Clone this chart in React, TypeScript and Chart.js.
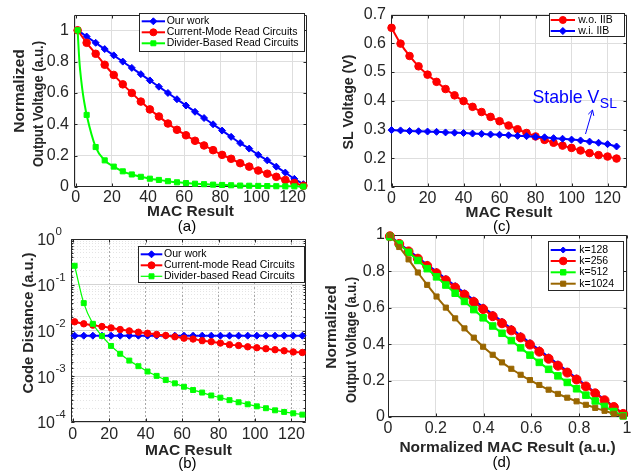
import React, { useEffect, useRef } from "react";
import { Chart, registerables } from "chart.js";
import { drawPoint } from "chart.js/helpers";

Chart.register(...registerables);

const FONT = "'Liberation Sans', Arial, Helvetica, sans-serif";
const AXIS = "#262626";
const GRID = "#dedede";
const W = 639;
const H = 472;
const BLUE = "#0000ff";
const RED = "#ff0000";
const GREEN = "#00ff00";
const BROWN = "#996600";
const TICK_SIZE = 16;
const TITLE_SIZE = 15.5;

// ---------- Panel (a) ----------
const macA = [1, 6, 11, 16, 21, 26, 31, 36, 41, 46, 51, 56, 61, 66, 71, 76, 81, 86, 91, 96, 101, 106, 111, 116, 121, 126];
const ourWorkA = [1.0, 0.96, 0.92, 0.88, 0.84, 0.8, 0.76, 0.72, 0.68, 0.64, 0.6, 0.56, 0.52, 0.48, 0.44, 0.4, 0.36, 0.32, 0.28, 0.245, 0.205, 0.17, 0.13, 0.092, 0.052, 0.018];
const currentModeA = [1.0, 0.92, 0.85, 0.78, 0.715, 0.655, 0.6, 0.545, 0.495, 0.45, 0.405, 0.365, 0.33, 0.295, 0.265, 0.235, 0.205, 0.18, 0.152, 0.13, 0.105, 0.085, 0.065, 0.045, 0.025, 0.008];
const dividerXA = [1, 2, 3, 4, 5, 6, 11, 16, 21, 26, 31, 36, 41, 46, 51, 56, 61, 66, 71, 76, 81, 86, 91, 96, 101, 106, 111, 116, 121, 126];
const dividerA = [1.0, 0.8, 0.68, 0.59, 0.52, 0.46, 0.255, 0.17, 0.13, 0.1, 0.08, 0.065, 0.053, 0.045, 0.037, 0.03, 0.025, 0.021, 0.018, 0.015, 0.013, 0.011, 0.009, 0.008, 0.007, 0.006, 0.005, 0.004, 0.004, 0.003];
const xTicksA = [0, 20, 40, 60, 80, 100, 120];
const xLabelsA = ["0", "20", "40", "60", "80", "100", "120"];
const yTicksA = [0, 0.2, 0.4, 0.6, 0.8, 1];
const yLabelsA = ["0", "0.2", "0.4", "0.6", "0.8", "1"];

// ---------- Panel (b) ----------
const macB = [1, 6, 11, 16, 21, 26, 31, 36, 41, 46, 51, 56, 61, 66, 71, 76, 81, 86, 91, 96, 101, 106, 111, 116, 121, 126];
const ourWorkB = [0.0077, 0.0077, 0.0077, 0.0077, 0.0077, 0.0077, 0.0077, 0.0077, 0.0077, 0.0077, 0.0077, 0.0077, 0.0077, 0.0077, 0.0077, 0.0077, 0.0077, 0.0077, 0.0077, 0.0077, 0.0077, 0.0077, 0.0077, 0.0077, 0.0077, 0.0077];
const currentModeB = [0.0155, 0.014, 0.0131, 0.0122, 0.0114, 0.0105, 0.0098, 0.0092, 0.0087, 0.0082, 0.0078, 0.0073, 0.0068, 0.0065, 0.006, 0.0057, 0.0053, 0.0049, 0.0047, 0.0044, 0.0042, 0.004, 0.0038, 0.0036, 0.0034, 0.0033];
const dividerB = [0.26, 0.0397, 0.014, 0.0076, 0.0046, 0.0031, 0.0022, 0.00166, 0.00127, 0.00102, 0.00083, 0.0007, 0.00059, 0.0005, 0.00044, 0.00038, 0.00034, 0.0003, 0.00027, 0.000244, 0.00022, 0.0002, 0.00018, 0.000166, 0.000155, 0.000145];
const xTicksB = [0, 20, 40, 60, 80, 100, 120];
const xLabelsB = ["0", "20", "40", "60", "80", "100", "120"];
const yDecadesB = [0, -1, -2, -3, -4];

// ---------- Panel (c) ----------
const macC = [0, 5, 10, 15, 20, 25, 30, 35, 40, 45, 50, 55, 60, 65, 70, 75, 80, 85, 90, 95, 100, 105, 110, 115, 120, 125];
const withoutIIB = [0.654, 0.599, 0.556, 0.52, 0.491, 0.466, 0.441, 0.419, 0.399, 0.379, 0.361, 0.344, 0.329, 0.314, 0.301, 0.288, 0.276, 0.264, 0.254, 0.244, 0.236, 0.227, 0.218, 0.211, 0.206, 0.199];
const withIIB = [0.298, 0.297, 0.295, 0.294, 0.293, 0.292, 0.29, 0.289, 0.288, 0.286, 0.285, 0.283, 0.282, 0.28, 0.278, 0.277, 0.275, 0.273, 0.27, 0.268, 0.265, 0.262, 0.258, 0.254, 0.249, 0.241];
const xTicksC = [0, 20, 40, 60, 80, 100, 120];
const xLabelsC = ["0", "20", "40", "60", "80", "100", "120"];
const yTicksC = [0.1, 0.2, 0.3, 0.4, 0.5, 0.6, 0.7];
const yLabelsC = ["0.1", "0.2", "0.3", "0.4", "0.5", "0.6", "0.7"];

// ---------- Panel (d) ----------
const normMacD = [0.008, 0.047, 0.086, 0.125, 0.164, 0.203, 0.242, 0.281, 0.32, 0.359, 0.398, 0.438, 0.477, 0.516, 0.555, 0.594, 0.633, 0.672, 0.711, 0.75, 0.789, 0.828, 0.867, 0.906, 0.945, 0.984];
const k128D = [0.995, 0.955, 0.916, 0.877, 0.838, 0.799, 0.76, 0.721, 0.682, 0.643, 0.604, 0.564, 0.525, 0.486, 0.447, 0.408, 0.369, 0.33, 0.291, 0.252, 0.213, 0.174, 0.135, 0.096, 0.057, 0.018];
const k256D = [0.993, 0.951, 0.91, 0.87, 0.83, 0.79, 0.751, 0.711, 0.672, 0.632, 0.593, 0.554, 0.515, 0.476, 0.437, 0.398, 0.359, 0.32, 0.282, 0.244, 0.206, 0.168, 0.13, 0.092, 0.055, 0.017];
const k512D = [0.99, 0.95, 0.905, 0.86, 0.815, 0.77, 0.725, 0.68, 0.635, 0.59, 0.545, 0.5, 0.46, 0.42, 0.38, 0.34, 0.3, 0.262, 0.226, 0.19, 0.155, 0.12, 0.088, 0.058, 0.03, 0.006];
const k1024D = [1.0, 0.934, 0.866, 0.794, 0.726, 0.662, 0.601, 0.542, 0.487, 0.436, 0.386, 0.342, 0.3, 0.265, 0.232, 0.203, 0.176, 0.15, 0.127, 0.106, 0.086, 0.067, 0.05, 0.034, 0.018, 0.004];
const xTicksD = [0, 0.2, 0.4, 0.6, 0.8, 1];
const xLabelsD = ["0", "0.2", "0.4", "0.6", "0.8", "1"];
const yTicksD = [0, 0.2, 0.4, 0.6, 0.8, 1];
const yLabelsD = ["0", "0.2", "0.4", "0.6", "0.8", "1"];

// ---------- helpers ----------
type Box = { l: number; t: number; r: number; b: number };

const pts = (xs: number[], ys: number[]) => xs.map((x, i) => ({ x, y: ys[i] }));

function ds(label: string, xs: number[], ys: number[], color: string, style: string, radius: any, legendRadius: number, order: number, width = 2) {
  return {
    label,
    data: pts(xs, ys),
    borderColor: color,
    backgroundColor: color,
    pointBackgroundColor: color,
    pointBorderColor: color,
    pointStyle: style,
    pointRadius: radius,
    pointHoverRadius: radius,
    pointBorderWidth: 1,
    borderWidth: width,
    cubicInterpolationMode: "monotone",
    clip: false,
    order,
    legendRadius,
  };
}

function layoutFor(area: Box, yW: number, xH: number) {
  return {
    padding: { left: area.l - yW, top: area.t, right: W - area.r, bottom: H - area.b - xH },
  };
}

function axis(o: any) {
  return {
    type: o.type || "linear",
    position: o.isX ? "bottom" : "left",
    min: o.min,
    max: o.max,
    afterBuildTicks: (s: any) => {
      if (o.ticks) s.ticks = o.ticks.map((v: number) => ({ value: v }));
    },
    afterFit: (s: any) => {
      if (o.isX) s.height = o.size;
      else s.width = o.size;
    },
    ticks: {
      display: o.showTicks !== false,
      callback: (_v: any, i: number) => (o.labels ? o.labels[i] : ""),
      font: { family: FONT, size: TICK_SIZE },
      color: AXIS,
      padding: o.tickPad,
      autoSkip: false,
      maxRotation: 0,
      minRotation: 0,
    },
    grid: { color: o.gridColor || GRID, drawTicks: false, lineWidth: 1 },
    border: { display: false, dash: o.dash || [] },
    title: {
      display: !!o.isX,
      text: o.title || "",
      color: AXIS,
      font: { family: FONT, size: TITLE_SIZE, weight: "bold", lineHeight: 1.2 },
      padding: { top: 0, bottom: 0 },
    },
  };
}

const boxPlugin = {
  id: "matBox",
  beforeDatasetsDraw(chart: any) {
    const { ctx, chartArea } = chart;
    const L = Math.round(chartArea.left) + 0.5;
    const R = Math.round(chartArea.right) - 0.5;
    const T = Math.round(chartArea.top) + 0.5;
    const B = Math.round(chartArea.bottom) - 0.5;
    ctx.save();
    ctx.strokeStyle = AXIS;
    ctx.lineWidth = 1;
    ctx.beginPath();
    ctx.rect(L, T, R - L, B - T);
    const xs = chart.scales.x;
    const ys = chart.scales.y;
    for (const t of xs.ticks) {
      const p = Math.round(xs.getPixelForValue(t.value)) + 0.5;
      ctx.moveTo(p, B);
      ctx.lineTo(p, B - 3);
      ctx.moveTo(p, T);
      ctx.lineTo(p, T + 3);
    }
    for (const t of ys.ticks) {
      const p = Math.round(ys.getPixelForValue(t.value)) + 0.5;
      ctx.moveTo(L, p);
      ctx.lineTo(L + 3, p);
      ctx.moveTo(R, p);
      ctx.lineTo(R - 3, p);
    }
    const y2 = chart.scales.y2;
    if (y2) {
      for (const t of y2.ticks) {
        const p = Math.round(y2.getPixelForValue(t.value)) + 0.5;
        ctx.moveTo(L, p);
        ctx.lineTo(L + 2, p);
        ctx.moveTo(R, p);
        ctx.lineTo(R - 2, p);
      }
    }
    ctx.stroke();
    ctx.restore();
  },
};

function legendPlugin(box: number[], rows: number[], lineX: number[], textX: number) {
  return {
    id: "matLegend",
    afterDatasetsDraw(chart: any) {
      const { ctx } = chart;
      const [x1, y1, x2, y2] = box;
      ctx.save();
      ctx.fillStyle = "#ffffff";
      ctx.fillRect(x1, y1, x2 - x1, y2 - y1);
      ctx.strokeStyle = AXIS;
      ctx.lineWidth = 1;
      ctx.strokeRect(x1 + 0.5, y1 + 0.5, x2 - x1 - 1, y2 - y1 - 1);
      chart.data.datasets.forEach((d: any, i: number) => {
        const y = rows[i];
        ctx.strokeStyle = d.borderColor;
        ctx.lineWidth = d.borderWidth;
        ctx.beginPath();
        ctx.moveTo(lineX[0], y);
        ctx.lineTo(lineX[1], y);
        ctx.stroke();
        ctx.fillStyle = d.backgroundColor;
        ctx.lineWidth = 1;
        drawPoint(ctx, { pointStyle: d.pointStyle, radius: d.legendRadius, borderWidth: 1, rotation: 0 } as any, (lineX[0] + lineX[1]) / 2, y);
        ctx.fillStyle = "#000000";
        ctx.font = `10.5px ${FONT}`;
        ctx.textAlign = "left";
        ctx.textBaseline = "middle";
        ctx.fillText(d.label, textX, y);
      });
      ctx.restore();
    },
  };
}

// items: horizontal texts; vtitles: rotated axis titles
function textPlugin(items: any[], vtitles: any[], extra?: (chart: any) => void) {
  return {
    id: "matText",
    afterDraw(chart: any) {
      const { ctx } = chart;
      for (const t of items) {
        ctx.save();
        ctx.font = t.font;
        ctx.fillStyle = t.color || "#000000";
        ctx.textAlign = t.align || "center";
        ctx.textBaseline = t.baseline || "middle";
        ctx.fillText(t.text, t.x, t.y);
        ctx.restore();
      }
      for (const v of vtitles) {
        ctx.save();
        ctx.translate(v.x, v.y);
        ctx.rotate(-Math.PI / 2);
        ctx.font = `bold ${TITLE_SIZE}px ${FONT}`;
        ctx.fillStyle = AXIS;
        ctx.textAlign = "center";
        ctx.textBaseline = "middle";
        if (v.maxWidth) ctx.fillText(v.text, 0, 0, v.maxWidth);
        else ctx.fillText(v.text, 0, 0);
        ctx.restore();
      }
      if (extra) extra(chart);
    },
  };
}

function baseConfig(datasets: any[], scales: any, layout: any, plugins: any[]) {
  return {
    type: "line",
    data: { datasets },
    options: {
      animation: false,
      responsive: false,
      devicePixelRatio: 1,
      layout,
      scales,
      plugins: { legend: { display: false }, tooltip: { enabled: false } },
      events: [],
    },
    plugins: [boxPlugin, ...plugins],
  } as any;
}

const panelLabel = (text: string, x: number, y: number) => ({ text, x, y, font: `15px ${FONT}` });

// ---------- configs ----------
function configA() {
  const area: Box = { l: 74, t: 7, r: 307, b: 187 };
  const markerSet = new Set(macA);
  const datasets = [
    ds("Our work", macA, ourWorkA, BLUE, "rectRot", 3.5, 3.5, 0),
    ds("Current-Mode Read Circuits", macA, currentModeA, RED, "circle", 3.8, 3.5, -1),
    ds("Divider-Based Read Circuits", dividerXA, dividerA, GREEN, "rect", (c: any) => (c.raw && markerSet.has(c.raw.x) ? 3.6 : 0), 3.5, -2),
  ];
  const scales = {
    x: axis({ isX: true, min: -1, max: 128, ticks: xTicksA, labels: xLabelsA, size: 33.7, tickPad: 0.5, title: "MAC Result" }),
    y: axis({ min: 0, max: 1.1, ticks: yTicksA, labels: yLabelsA, size: 74, tickPad: 5 }),
  };
  return baseConfig(datasets, scales, layoutFor(area, 74, 33.7), [
    legendPlugin([139, 13, 305, 52], [21.3, 32.3, 43.3], [141.7, 165], 166.7),
    textPlugin(
      [panelLabel("(a)", 187, 226.7)],
      [
        { text: "Normalized", x: 19.5, y: 91 },
        { text: "Output Voltage (a.u.)", x: 38.5, y: 104, maxWidth: 126 },
      ]
    ),
  ]);
}

function configB() {
  const area: Box = { l: 71, t: 239, r: 306, b: 422 };
  const isDecade = (v: number) => Math.abs(Math.log10(v) - Math.round(Math.log10(v))) < 1e-9;
  const datasets = [
    ds("Our work", macB, ourWorkB, BLUE, "rectRot", 3.5, 3.5, 0),
    ds("Current-mode Read Circuits", macB, currentModeB, RED, "circle", 3.2, 3.5, -1),
    ds("Divider-based Read Circuits", macB, dividerB, GREEN, "rect", 3.5, 3.5, -2, 1.2),
  ];
  const yMain = axis({ type: "logarithmic", min: 1e-4, max: 1, ticks: yDecadesB.map((e) => Math.pow(10, e)), size: 71, tickPad: 5, showTicks: false, gridColor: "#d4d4d4" });
  const yMinor = {
    type: "logarithmic",
    position: "left",
    min: 1e-4,
    max: 1,
    afterFit: (s: any) => {
      s.width = 0;
    },
    ticks: { display: false },
    grid: { color: (c: any) => (c.tick && isDecade(c.tick.value) ? "rgba(0,0,0,0)" : "#e4e4e4"), drawTicks: false, lineWidth: 1 },
    border: { display: false, dash: [1, 2] },
    title: { display: false },
  };
  const scales = {
    x: axis({ isX: true, min: -1, max: 128, ticks: xTicksB, labels: xLabelsB, size: 38, tickPad: 3, gridColor: "#a8a8a8", dash: [2, 2], title: "MAC Result" }),
    y: yMain,
    y2: yMinor,
  };
  const logLabels = (chart: any) => {
    const { ctx } = chart;
    const ys = chart.scales.y;
    const left = chart.chartArea.left;
    ctx.save();
    ctx.fillStyle = AXIS;
    ctx.textBaseline = "middle";
    for (const e of yDecadesB) {
      const y = ys.getPixelForValue(Math.pow(10, e));
      ctx.font = `${TICK_SIZE}px ${FONT}`;
      ctx.textAlign = "right";
      ctx.fillText("10", left - 16, y + 2);
      ctx.font = `11.5px ${FONT}`;
      ctx.textAlign = "left";
      ctx.fillText(String(e), left - 15.5, y - 7);
    }
    ctx.restore();
  };
  return baseConfig(datasets, scales, layoutFor(area, 71, 38), [
    legendPlugin([138, 246, 305, 283], [254.3, 265.3, 276.3], [140.7, 162.3], 164),
    textPlugin([panelLabel("(b)", 187.3, 464.3)], [{ text: "Code Distance (a.u.)", x: 29, y: 323, maxWidth: 141 }], logLabels),
  ]);
}

function configC() {
  const area: Box = { l: 391, t: 7, r: 627, b: 187 };
  const datasets = [
    ds("w.o. IIB", macC, withoutIIB, RED, "circle", 3.8, 3.5, 0),
    ds("w.i. IIB", macC, withIIB, BLUE, "rectRot", 3.5, 3.5, -1),
  ];
  const scales = {
    x: axis({ isX: true, min: -0.3, max: 130.8, ticks: xTicksC, labels: xLabelsC, size: 35.3, tickPad: 1.5, title: "MAC Result" }),
    y: axis({ min: 0.1, max: 0.7, ticks: yTicksC, labels: yLabelsC, size: 71, tickPad: 5 }),
  };
  const annotate = (chart: any) => {
    const { ctx } = chart;
    ctx.save();
    ctx.fillStyle = BLUE;
    ctx.textAlign = "left";
    ctx.textBaseline = "alphabetic";
    ctx.font = `17.7px ${FONT}`;
    const main = "Stable V";
    ctx.fillText(main, 532.5, 103.3);
    const w = ctx.measureText(main).width;
    ctx.font = `14px ${FONT}`;
    ctx.fillText("SL", 533 + w, 107.5);
    ctx.strokeStyle = BLUE;
    ctx.lineWidth = 1;
    const x0 = 585.5, y0 = 134, x1 = 592.5, y1 = 110;
    ctx.beginPath();
    ctx.moveTo(x0, y0);
    ctx.lineTo(x1, y1);
    const ang = Math.atan2(y1 - y0, x1 - x0);
    const hl = 6;
    ctx.moveTo(x1, y1);
    ctx.lineTo(x1 - hl * Math.cos(ang - 0.5), y1 - hl * Math.sin(ang - 0.5));
    ctx.moveTo(x1, y1);
    ctx.lineTo(x1 - hl * Math.cos(ang + 0.5), y1 - hl * Math.sin(ang + 0.5));
    ctx.stroke();
    ctx.restore();
  };
  return baseConfig(datasets, scales, layoutFor(area, 71, 35.3), [
    legendPlugin([549, 13, 625, 37], [20, 31], [550.7, 575], 578.3),
    textPlugin([panelLabel("(c)", 501.7, 226.7)], [{ text: "SL Voltage (V)", x: 348.3, y: 102, maxWidth: 95 }], annotate),
  ]);
}

function configD() {
  const area: Box = { l: 388, t: 235, r: 627, b: 417 };
  const datasets = [
    ds("k=128", normMacD, k128D, BLUE, "rectRot", 3.2, 3, 0),
    ds("k=256", normMacD, k256D, RED, "circle", 4.5, 3.8, -1),
    ds("k=512", normMacD, k512D, GREEN, "rect", 4.6, 3.8, -2),
    ds("k=1024", normMacD, k1024D, BROWN, "rect", 3.6, 3.6, -3),
  ];
  const scales = {
    x: axis({ isX: true, min: 0, max: 1, ticks: xTicksD, labels: xLabelsD, size: 39.7, tickPad: 2, title: "Normalized MAC Result (a.u.)" }),
    y: axis({ min: 0, max: 1, ticks: yTicksD, labels: yLabelsD, size: 68, tickPad: 3 }),
  };
  return baseConfig(datasets, scales, layoutFor(area, 68, 39.7), [
    legendPlugin([548, 241, 624, 291], [250, 261, 272.3, 283.7], [550.7, 575.7], 579.3),
    textPlugin(
      [panelLabel("(d)", 501.7, 462.7)],
      [
        { text: "Normalized", x: 332, y: 327 },
        { text: "Output Voltage (a.u.)", x: 352, y: 340, maxWidth: 126 },
      ]
    ),
  ]);
}

export default function App() {
  const r0 = useRef<HTMLCanvasElement>(null);
  const r1 = useRef<HTMLCanvasElement>(null);
  const r2 = useRef<HTMLCanvasElement>(null);
  const r3 = useRef<HTMLCanvasElement>(null);
  const refs = [r0, r1, r2, r3];
  useEffect(() => {
    const builders = [configA, configB, configC, configD];
    const charts = builders.map((b, i) => new Chart(refs[i].current as HTMLCanvasElement, b()));
    return () => charts.forEach((c) => c.destroy());
  }, []);
  return (
    <div style={{ position: "absolute", left: 0, top: 0, width: W, height: H, background: "#ffffff", overflow: "hidden" }}>
      {refs.map((r, i) => (
        <canvas key={i} ref={r} width={W} height={H} style={{ position: "absolute", left: 0, top: 0, width: W, height: H }} />
      ))}
    </div>
  );
}
